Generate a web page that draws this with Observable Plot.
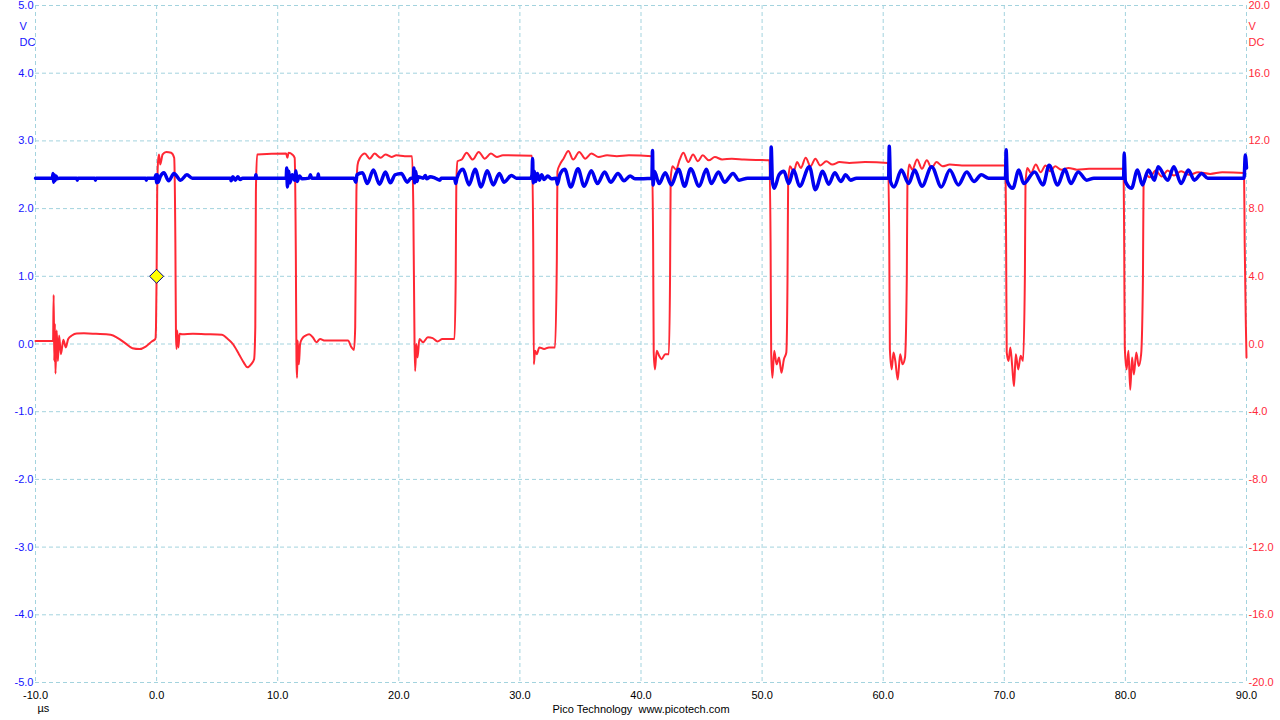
<!DOCTYPE html>
<html><head><meta charset="utf-8">
<script src="https://cdn.jsdelivr.net/npm/d3@7"></script>
<script src="https://cdn.jsdelivr.net/npm/@observablehq/plot@0.6"></script>
<style>html,body{margin:0;padding:0;background:#fff;overflow:hidden}#chart{width:1280px;height:720px}</style>
</head><body><div id="chart"></div>
<script>
// Time axis (µs) tick values
const xTicks = [-10, 0, 10, 20, 30, 40, 50, 60, 70, 80, 90];
// Channel A (blue, left axis, V)
const leftTicks = [-5, -4, -3, -2, -1, 0, 1, 2, 3, 4, 5];
// Channel B (red, right axis, V)
const rightTicks = [-20, -16, -12, -8, -4, 0, 4, 8, 12, 16, 20];
const unitLabels = ["V", "DC"];
const timeUnit = "µs";
const footer = "Pico Technology \u00a0www.picotech.com";

// Red channel [time µs, volts]
const redTrace = [
[-10,0.17],[-8.55,0.17],[-8.5,2.9],[-8.45,-1.0],[-8.4,1.2],[-8.35,-1.75],[-8.25,0.8],[-8.15,-1.0],[-8.05,0.5],[-7.9,-0.6],[-7.7,0.25],[-7.5,-0.2],[-7.3,0.3],[-7.0,0.5],[-6.6,0.62],[-6.0,0.63],[-5.0,0.6],[-3.8,0.55],[-3.2,0.35],[-2.6,0.05],[-2.0,-0.25],[-1.4,-0.3],[-0.9,-0.15],[-0.4,0.15],[-0.1,0.3],[-0.05,1.0],[0,4.0],[0.05,9.0],[0.12,10.8],[0.2,11.2],[0.3,10.6],[0.5,11.2],[0.8,11.35],[1.2,11.3],[1.45,11.0],[1.55,6],[1.6,0.5],[1.65,-0.3],[1.7,0.8],[1.8,-0.2],[1.9,0.6],[2.1,0.58],[3,0.6],[4,0.58],[5.4,0.55],[5.8,0.35],[6.3,0.0],[6.8,-0.6],[7.2,-1.1],[7.5,-1.38],[7.8,-1.2],[8.05,-0.9],[8.15,1],[8.2,9],[8.3,11.2],[10.7,11.25],[10.8,11.0],[10.9,11.3],[11.2,11.2],[11.4,11.0],[11.5,5],[11.55,-1.0],[11.6,-2.0],[11.65,0.2],[11.75,-1.2],[11.85,0.0],[12.0,0.3],[12.3,0.5],[12.6,0.58],[12.9,0.4],[13.2,0.1],[13.5,0.3],[13.9,0.2],[15.8,0.2],[16.1,-0.2],[16.3,-0.35],[16.4,1.0],[16.5,9],[16.6,10.6],[16.8,11.0],[17.2,11.25],[17.6,10.95],[18.0,11.25],[18.5,11.0],[18.9,11.2],[19.4,11.05],[19.8,11.15],[20.5,11.1],[21.1,11.1],[21.2,8],[21.3,0],[21.35,-1.6],[21.45,0.0],[21.55,-0.8],[21.7,0.3],[22.0,0.1],[22.4,0.4],[22.8,0.35],[23.2,0.15],[23.6,0.3],[24.6,0.3],[24.7,4],[24.75,9.5],[24.85,10.8],[25.2,10.9],[25.6,11.3],[26.1,10.9],[26.6,11.35],[27.1,10.95],[27.6,11.25],[28.1,11.05],[28.6,11.15],[31.0,11.12],[31.1,6],[31.15,-1.2],[31.25,-0.4],[31.4,-0.6],[31.6,-0.2],[32.0,-0.3],[32.4,-0.2],[32.9,-0.2],[33.05,5],[33.1,10.2],[33.3,10.6],[33.6,10.95],[34.0,11.4],[34.4,10.9],[34.9,11.35],[35.4,10.95],[35.9,11.25],[36.5,11.05],[37.2,11.15],[38,11.1],[39,11.15],[40.9,11.1],[41.0,6],[41.05,-0.5],[41.15,-1.5],[41.3,-0.4],[41.5,-0.7],[41.7,-0.9],[42.0,-0.6],[42.3,-0.6],[42.4,4],[42.45,9.8],[42.6,10.5],[42.9,10.3],[43.2,10.9],[43.5,11.3],[43.9,10.75],[44.3,11.2],[44.7,10.8],[45.1,11.15],[45.6,10.85],[46.1,11.05],[46.7,10.9],[47.5,10.95],[48.5,10.9],[50.6,10.85],[50.7,6],[50.75,-0.5],[50.85,-2.0],[51.0,-0.4],[51.2,-1.2],[51.4,-0.8],[51.6,-1.7],[51.8,-0.9],[52.0,-0.5],[52.1,4],[52.15,9.5],[52.3,10.5],[52.6,10.2],[52.9,10.75],[53.2,10.4],[53.6,11.0],[54.0,10.5],[54.4,10.95],[54.8,10.55],[55.3,10.8],[55.8,10.6],[56.4,10.75],[57.2,10.7],[58.5,10.75],[60.4,10.7],[60.5,6],[60.55,-0.3],[60.7,-1.5],[60.85,-0.5],[61.0,-1.0],[61.2,-2.1],[61.4,-0.6],[61.6,-1.2],[61.8,-0.8],[61.95,4],[62.0,9.5],[62.15,10.6],[62.4,10.3],[62.8,10.9],[63.2,10.35],[63.6,10.85],[64.0,10.4],[64.4,10.75],[64.9,10.5],[65.5,10.6],[66.5,10.55],[70.1,10.55],[70.15,6],[70.2,-0.5],[70.35,-1.0],[70.5,-0.2],[70.65,-1.3],[70.8,-2.5],[70.95,-0.6],[71.15,-1.5],[71.35,-0.7],[71.55,-1.0],[71.7,4],[71.75,9.5],[71.9,10.4],[72.2,10.1],[72.6,10.6],[73.0,10.15],[73.4,10.55],[73.8,10.2],[74.2,10.5],[74.7,10.3],[75.3,10.4],[76,10.3],[77,10.35],[79.85,10.35],[79.9,6],[79.95,-0.2],[80.1,-1.5],[80.25,-0.4],[80.4,-2.7],[80.55,-0.8],[80.7,-1.8],[80.9,-0.5],[81.1,-1.3],[81.3,-0.6],[81.45,4],[81.5,9.5],[81.7,10.0],[82.0,9.85],[82.5,10.25],[83.0,9.9],[83.5,10.25],[84.0,9.95],[84.6,10.2],[85.3,10.0],[86,10.15],[87,10.05],[88,10.15],[89.8,10.1],[89.85,6],[89.95,1],[90,-0.8]
];

// Blue channel [time µs, volts]
const blueTrace = [
[-10,2.45],[-8.6,2.45],[-8.55,2.52],[-8.5,2.39],[-8.45,2.5],[-8.4,2.41],[-8.3,2.48],[-8.2,2.44],[-8.0,2.45],[-6.6,2.45],[-6.55,2.42],[-6.5,2.45],[-5.1,2.45],[-5.05,2.42],[-5.0,2.45],[-0.9,2.45],[-0.85,2.42],[-0.8,2.45],[-0.15,2.45],[-0.05,2.5],[0.0,2.38],[0.06,2.5],[0.12,2.39],[0.3,2.47],[0.6,2.53],[1.0,2.41],[1.43,2.52],[1.98,2.42],[2.5,2.5],[2.95,2.45],[6.1,2.45],[6.15,2.41],[6.3,2.47],[6.5,2.42],[6.7,2.47],[6.9,2.43],[7.1,2.45],[8.15,2.45],[8.2,2.5],[8.25,2.45],[10.7,2.45],[10.75,2.6],[10.8,2.32],[10.9,2.55],[11.0,2.38],[11.2,2.5],[11.4,2.42],[11.5,2.56],[11.6,2.4],[11.8,2.48],[12.0,2.44],[12.6,2.45],[12.7,2.5],[12.8,2.45],[13.3,2.45],[13.35,2.51],[13.4,2.45],[16.3,2.45],[16.45,2.39],[16.55,2.5],[17.0,2.53],[17.4,2.37],[17.9,2.57],[18.4,2.36],[18.9,2.54],[19.3,2.38],[19.7,2.5],[20.2,2.52],[20.7,2.39],[21.0,2.45],[21.2,2.45],[21.25,2.6],[21.3,2.38],[21.4,2.55],[21.5,2.4],[21.6,2.47],[22.0,2.45],[22.2,2.49],[22.3,2.44],[22.6,2.47],[23.0,2.45],[23.4,2.42],[23.5,2.45],[24.6,2.45],[24.7,2.37],[24.8,2.45],[25.3,2.58],[25.8,2.35],[26.3,2.58],[26.8,2.32],[27.3,2.56],[27.8,2.35],[28.3,2.52],[28.7,2.39],[29.3,2.49],[29.7,2.45],[30.9,2.45],[31.0,2.5],[31.05,2.74],[31.1,2.38],[31.2,2.55],[31.3,2.4],[31.45,2.52],[31.6,2.42],[31.8,2.5],[32.0,2.43],[32.3,2.48],[32.6,2.44],[33.0,2.45],[33.1,2.36],[33.3,2.5],[33.7,2.58],[34.2,2.32],[34.8,2.59],[35.3,2.33],[35.9,2.56],[36.4,2.37],[37.0,2.54],[37.5,2.39],[38.1,2.52],[38.6,2.41],[39.1,2.48],[39.5,2.44],[40.9,2.45],[40.95,2.86],[41.0,2.35],[41.1,2.55],[41.5,2.37],[42.0,2.53],[42.5,2.35],[43.1,2.58],[43.6,2.33],[44.1,2.59],[44.8,2.33],[45.4,2.58],[45.8,2.37],[46.4,2.54],[46.9,2.39],[47.6,2.52],[48.1,2.42],[48.8,2.45],[50.7,2.45],[50.75,2.91],[50.85,2.4],[51.0,2.3],[51.4,2.5],[51.8,2.55],[52.2,2.37],[52.6,2.57],[53.1,2.33],[53.9,2.62],[54.4,2.28],[55.0,2.55],[55.5,2.36],[56.0,2.53],[56.5,2.4],[56.9,2.5],[57.3,2.42],[57.8,2.45],[60.45,2.45],[60.5,2.92],[60.6,2.4],[60.9,2.32],[61.5,2.57],[62.1,2.37],[62.6,2.57],[63.2,2.33],[64.0,2.62],[64.8,2.32],[65.5,2.57],[66.2,2.35],[66.9,2.54],[67.5,2.4],[68.1,2.5],[68.7,2.45],[70.1,2.45],[70.15,2.87],[70.25,2.4],[70.7,2.3],[71.2,2.57],[71.6,2.37],[72.5,2.54],[73.2,2.35],[73.7,2.64],[74.4,2.35],[75.0,2.58],[75.5,2.37],[76.1,2.54],[76.8,2.42],[77.4,2.45],[79.85,2.45],[79.9,2.82],[80.0,2.4],[80.5,2.3],[81.0,2.57],[81.4,2.35],[81.9,2.57],[82.4,2.42],[82.7,2.62],[83.5,2.42],[84.0,2.62],[84.6,2.37],[85.2,2.57],[85.7,2.42],[86.3,2.52],[86.8,2.45],[89.8,2.45],[89.9,2.79],[90,2.6]
];

// Trigger point [time µs, red volts]
const trigger = [[0, 4.0]];
const redPerBlue = 4; // right axis spans ±20 V against left ±5 V

const plot = Plot.plot({
  width: 1280, height: 720,
  marginLeft: 35, marginRight: 34, marginTop: 5, marginBottom: 38,
  style: {fontFamily: "'Liberation Sans', Arial, sans-serif", fontSize: "11px", background: "#fff", overflow: "visible"},
  x: {domain: [-10, 90], label: null},
  y: {domain: [-5, 5], label: null},
  marks: [
    Plot.gridX(xTicks, {stroke: "#a3d3de", strokeOpacity: 1, strokeDasharray: "4,3"}),
    Plot.gridY(leftTicks, {stroke: "#a3d3de", strokeOpacity: 1, strokeDasharray: "4,3"}),
    Plot.line(redTrace, {x: d => d[0], y: d => d[1] / redPerBlue, stroke: "#ff2834", strokeWidth: 2, curve: "monotone-x"}),
    Plot.line(blueTrace, {x: d => d[0], y: d => d[1], stroke: "#0000f0", strokeWidth: 3.5, curve: "monotone-x"}),
    Plot.dot(trigger, {x: d => d[0], y: d => d[1] / redPerBlue, symbol: "diamond2", r: 6.3, fill: "#ffff00", stroke: "#000080", strokeWidth: 1}),
    Plot.axisY(leftTicks, {anchor: "left", tickSize: 0, tickPadding: 2, label: null, tickFormat: d => d.toFixed(1), fill: "#1414ff"}),
    Plot.axisY(leftTicks, {anchor: "right", tickSize: 0, tickPadding: 2, label: null, tickFormat: d => rightTicks[leftTicks.indexOf(d)].toFixed(1), fill: "#ff2a3a"}),
    Plot.axisX(xTicks, {anchor: "bottom", tickSize: 0, tickPadding: 9, label: null, tickFormat: d => d.toFixed(1), fill: "#000"}),
    Plot.text([unitLabels[0]], {frameAnchor: "top-left", textAnchor: "start", dx: -16, dy: 17, fill: "#1414ff"}),
    Plot.text([unitLabels[1]], {frameAnchor: "top-left", textAnchor: "start", dx: -16, dy: 33, fill: "#1414ff"}),
    Plot.text([unitLabels[0]], {frameAnchor: "top-right", textAnchor: "start", dx: 2, dy: 17, fill: "#ff2a3a"}),
    Plot.text([unitLabels[1]], {frameAnchor: "top-right", textAnchor: "start", dx: 2, dy: 33, fill: "#ff2a3a"}),
    Plot.text([timeUnit], {frameAnchor: "bottom-left", textAnchor: "start", dx: 2, dy: 29, fill: "#000"}),
    Plot.text([footer], {frameAnchor: "bottom", dy: 30, fill: "#000"})
  ]
});
document.getElementById("chart").appendChild(plot);
</script>
</body></html>
